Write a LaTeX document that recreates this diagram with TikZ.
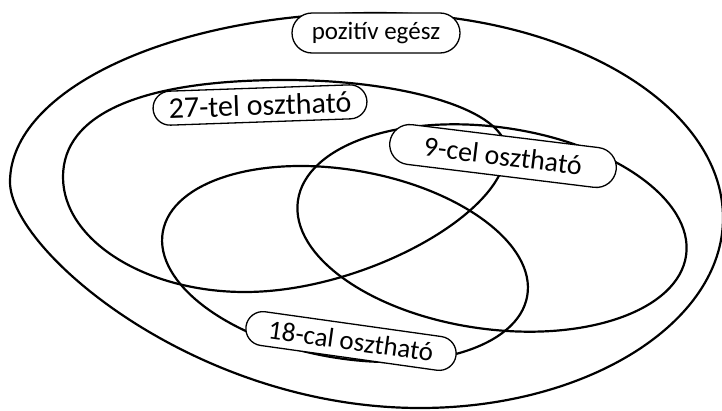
\documentclass[tikz,border=0pt]{standalone}
\usepackage{fontspec}
\setmainfont{Carlito}
\usetikzlibrary{shapes.misc}
\tikzset{
  setline/.style={line width=2.2pt, black},
  tag/.style={draw, line width=1.3pt, fill=white, rounded rectangle, inner sep=0pt},
}
\begin{document}
\begin{tikzpicture}[x=1pt,y=-1pt]
\useasboundingbox (0,0) rectangle (722,410);
% outer set: pozitiv egesz
\draw[setline] (10,182) .. controls (10,89) and (174,13) .. (376,13)
  .. controls (568,13) and (723,105) .. (723,218)
  .. controls (723,323) and (587,408) .. (420,408)
  .. controls (195,408) and (10,250) .. (10,182) -- cycle;
% 27
\draw[setline] (63,177) .. controls (63,114) and (141,80) .. (285,80)
  .. controls (407,80) and (506,111) .. (506,150)
  .. controls (506,214) and (362,292) .. (245,292)
  .. controls (145,292) and (63,240) .. (63,177) -- cycle;
% 9
\begin{scope}[shift={(492,228)}, rotate=-8]
  \draw[setline] (0,0) ellipse [x radius=196, y radius=101];
\end{scope}
% 18
\begin{scope}[shift={(345,264)}, rotate=-10]
  \draw[setline] (0,0) ellipse [x radius=185, y radius=94];
\end{scope}
% labels
\node[tag, minimum width=168pt, minimum height=40pt] (pos) at (376,33)
  {\fontsize{25}{28}\selectfont pozitív egész};
\node[tag, minimum width=214pt, minimum height=34pt, rotate=2] (d27) at (260,105)
  {\fontsize{30}{32}\selectfont 27-tel osztható};
\node[tag, minimum width=228pt, minimum height=40pt, rotate=-7] (d9) at (503,156)
  {\fontsize{28}{30}\selectfont 9-cel osztható};
\node[tag, minimum width=212pt, minimum height=34pt, rotate=-8] (d18) at (351,341)
  {\fontsize{27}{29}\selectfont 18-cal osztható};
\end{tikzpicture}
\end{document}
